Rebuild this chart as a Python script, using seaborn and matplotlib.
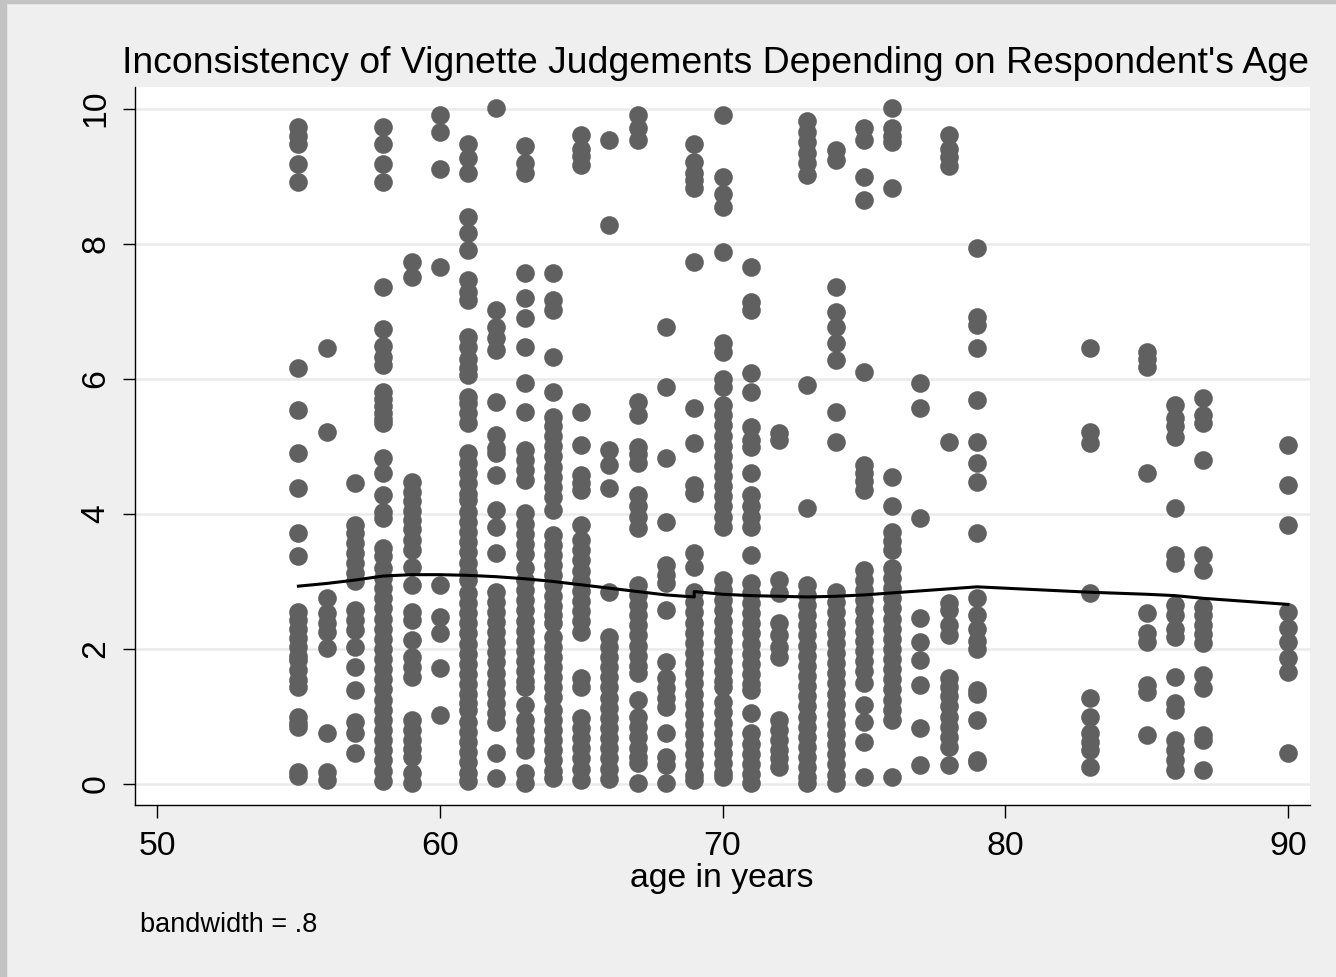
import pandas as pd
import seaborn as sns
from matplotlib import pyplot as plt
from matplotlib.patches import Rectangle

# inconsistency scores read per age column
age55 = [9.73, 9.6, 9.47, 9.18, 8.92, 6.16, 5.54, 4.9, 4.38, 3.72, 3.37, 2.54, 2.43, 2.3, 2.16, 2.03, 1.9,
         1.84, 1.69, 1.54, 1.44, 0.99, 0.9, 0.85, 0.18, 0.12]
age56 = [6.46, 5.21, 2.75, 2.53, 2.38, 2.25, 2.01, 0.75, 0.18, 0.06]
age57 = [4.46, 3.84, 3.72, 3.57, 3.42, 3.27, 3.12, 3.0, 2.58, 2.43, 2.28, 2.03, 1.73, 1.39, 0.92, 0.75, 0.46]
age58 = [9.73, 9.47, 9.18, 8.92, 7.36, 6.73, 6.48, 6.33, 6.2, 5.8, 5.7, 5.6, 5.5, 5.4, 5.35, 4.83, 4.6, 4.28,
         4.03, 3.94, 3.5, 3.37, 3.2, 3.05, 2.9, 2.75, 2.6, 2.45, 2.3, 2.15, 2.0, 1.85, 1.7, 1.55, 1.4, 1.25,
         1.1, 0.95, 0.8, 0.65, 0.5, 0.35, 0.2, 0.05]
age59 = [7.73, 7.51, 4.47, 4.33, 4.19, 4.05, 3.91, 3.77, 3.62, 3.47, 3.21, 2.95, 2.55, 2.43, 2.13, 1.88, 1.73,
         1.59, 0.95, 0.8, 0.65, 0.52, 0.4, 0.16, 0.02]
age60 = [9.91, 9.66, 9.1, 7.66, 2.95, 2.47, 2.24, 1.72, 1.02]
age61 = [9.47, 9.27, 9.05, 8.39, 8.16, 7.91, 7.47, 7.29, 7.17, 6.62, 6.47, 6.3, 6.16, 6.06, 5.73, 5.64, 5.5,
         5.35, 4.9, 4.75, 4.6, 4.45, 4.3, 4.2, 4.03, 3.88, 3.73, 3.58, 3.43, 3.28, 3.13, 3.02, 2.83, 2.68,
         2.53, 2.38, 2.23, 2.08, 1.93, 1.78, 1.63, 1.48, 1.33, 1.2, 1.1, 0.92, 0.77, 0.62, 0.47, 0.32, 0.17, 0.05]
age62 = [10.01, 7.02, 6.76, 6.6, 6.43, 5.66, 5.17, 4.98, 4.9, 4.57, 4.06, 3.81, 3.42, 2.85, 2.7, 2.55, 2.4,
         2.25, 2.1, 1.95, 1.8, 1.65, 1.5, 1.35, 1.2, 1.05, 0.92, 0.46, 0.09]
age63 = [9.44, 9.2, 9.05, 7.57, 7.2, 6.9, 6.47, 5.94, 5.51, 4.95, 4.8, 4.65, 4.5, 4.01, 3.85, 3.7, 3.55, 3.4,
         3.2, 3.02, 2.87, 2.72, 2.57, 2.42, 2.27, 2.12, 1.97, 1.82, 1.67, 1.52, 1.44, 1.17, 0.95, 0.8, 0.65,
         0.5, 0.16, 0.02]
age64 = [7.57, 7.17, 7.02, 6.33, 5.81, 5.44, 5.3, 5.15, 5.0, 4.85, 4.7, 4.55, 4.4, 4.25, 4.06, 3.69, 3.54,
         3.39, 3.24, 3.09, 2.94, 2.79, 2.64, 2.5, 2.38, 2.18, 2.03, 1.88, 1.73, 1.58, 1.43, 1.29, 1.1, 0.95,
         0.8, 0.65, 0.5, 0.35, 0.2, 0.09]
age65 = [9.61, 9.4, 9.3, 9.17, 5.51, 5.02, 4.57, 4.45, 4.36, 3.84, 3.61, 3.46, 3.31, 3.16, 3.01, 2.86, 2.71,
         2.56, 2.41, 2.25, 1.57, 1.44, 0.98, 0.83, 0.68, 0.53, 0.38, 0.23, 0.06]
age66 = [9.54, 8.28, 4.95, 4.73, 4.38, 2.84, 2.18, 2.03, 1.88, 1.73, 1.58, 1.43, 1.28, 1.13, 0.98, 0.83,
         0.68, 0.53, 0.38, 0.23, 0.08]
age67 = [9.91, 9.72, 9.54, 5.66, 5.47, 4.99, 4.88, 4.76, 4.28, 4.12, 3.96, 3.79, 2.95, 2.8, 2.65, 2.5, 2.35,
         2.2, 2.05, 1.9, 1.75, 1.64, 1.24, 0.99, 0.84, 0.69, 0.54, 0.4, 0.31, 0.02]
age68 = [6.76, 5.88, 4.83, 3.88, 3.24, 3.1, 2.98, 2.58, 1.81, 1.57, 1.42, 1.28, 1.14, 0.75, 0.4, 0.28, 0.02]
age69 = [9.47, 9.21, 9.05, 8.95, 8.83, 7.73, 5.57, 5.05, 4.43, 4.31, 3.42, 3.21, 2.84, 2.69, 2.54, 2.39,
         2.24, 2.09, 1.94, 1.79, 1.64, 1.49, 1.34, 1.19, 1.04, 0.89, 0.74, 0.59, 0.44, 0.29, 0.14, 0.06]
age70 = [9.91, 8.99, 8.73, 8.55, 7.88, 6.53, 6.39, 5.99, 5.88, 5.61, 5.46, 5.31, 5.16, 5.01, 4.86, 4.71,
         4.56, 4.41, 4.26, 4.11, 3.96, 3.81, 3.02, 2.87, 2.72, 2.57, 2.42, 2.27, 2.12, 1.97, 1.82, 1.67,
         1.52, 1.44, 1.21, 1.06, 0.91, 0.76, 0.61, 0.46, 0.31, 0.16, 0.1]
age71 = [7.66, 7.14, 7.02, 6.09, 5.81, 5.29, 5.1, 4.99, 4.6, 4.28, 4.12, 3.96, 3.81, 3.39, 2.98, 2.83, 2.68,
         2.53, 2.38, 2.23, 2.08, 1.93, 1.78, 1.63, 1.48, 1.39, 1.05, 0.75, 0.6, 0.45, 0.3, 0.15, 0.02]
age72 = [5.2, 5.1, 3.02, 2.83, 2.38, 2.2, 2.03, 1.88, 0.95, 0.8, 0.65, 0.5, 0.38, 0.25]
age73 = [9.81, 9.65, 9.5, 9.35, 9.2, 9.02, 5.91, 4.09, 2.95, 2.8, 2.65, 2.5, 2.35, 2.2, 2.05, 1.9, 1.75,
         1.6, 1.45, 1.3, 1.15, 1.0, 0.85, 0.7, 0.55, 0.4, 0.25, 0.1, 0.02]
age74 = [9.39, 9.24, 7.36, 6.99, 6.76, 6.53, 6.28, 5.51, 5.07, 2.84, 2.69, 2.54, 2.39, 2.24, 2.09, 1.94,
         1.79, 1.64, 1.49, 1.34, 1.19, 1.04, 0.89, 0.74, 0.59, 0.44, 0.29, 0.14, 0.02]
age75 = [9.72, 9.54, 8.99, 8.65, 6.1, 4.73, 4.6, 4.48, 4.36, 3.17, 3.02, 2.87, 2.72, 2.57, 2.42, 2.27, 2.12,
         1.97, 1.82, 1.67, 1.5, 1.17, 0.92, 0.62, 0.1]
age76 = [10.01, 9.72, 9.6, 9.51, 8.83, 4.55, 4.11, 3.73, 3.6, 3.47, 3.2, 3.05, 2.9, 2.75, 2.6, 2.45, 2.3,
         2.15, 2.0, 1.85, 1.7, 1.55, 1.4, 1.25, 1.1, 0.95, 0.1]
age77 = [5.94, 5.57, 3.94, 2.46, 2.1, 1.84, 1.47, 0.83, 0.28]
age78 = [9.61, 9.4, 9.28, 9.15, 5.07, 2.68, 2.58, 2.35, 2.2, 1.57, 1.43, 1.3, 1.15, 1.0, 0.85, 0.7, 0.55, 0.28]
age79 = [7.94, 6.92, 6.8, 6.46, 5.69, 5.07, 4.76, 4.47, 3.72, 2.76, 2.5, 2.3, 2.12, 2.0, 1.39, 1.34, 0.95,
         0.36, 0.32]
age83 = [6.46, 5.21, 5.05, 2.83, 1.27, 0.99, 0.75, 0.62, 0.5, 0.25]
age85 = [6.4, 6.3, 6.18, 4.6, 2.53, 2.24, 2.1, 1.47, 1.37, 0.72]
age86 = [5.61, 5.42, 5.3, 5.14, 4.09, 3.39, 3.27, 2.65, 2.5, 2.3, 2.18, 1.59, 1.2, 1.1, 0.65, 0.5, 0.36, 0.21]
age87 = [5.72, 5.47, 5.35, 4.8, 3.39, 3.17, 2.62, 2.5, 2.35, 2.22, 2.09, 1.61, 1.42, 0.72, 0.65, 0.21]
age90 = [5.02, 4.43, 3.84, 2.55, 2.31, 2.1, 1.87, 1.66, 0.46]

ages = [55, 56, 57, 58, 59, 60, 61, 62, 63, 64, 65, 66, 67, 68, 69, 70, 71, 72, 73, 74, 75, 76, 77, 78, 79,
        83, 85, 86, 87, 90]
columns = [age55, age56, age57, age58, age59, age60, age61, age62, age63, age64, age65, age66, age67, age68,
           age69, age70, age71, age72, age73, age74, age75, age76, age77, age78, age79, age83, age85, age86,
           age87, age90]

# lowess curve (bandwidth .8)
fit_age = [55, 56, 57, 58, 59, 60, 61, 62, 63, 64, 65, 66, 67, 68, 69, 69, 70, 71, 72, 73, 74, 75, 76, 77,
           78, 79, 83, 85, 86, 87, 90]
fit_val = [2.93, 2.97, 3.02, 3.08, 3.1, 3.1, 3.09, 3.07, 3.04, 3.0, 2.95, 2.9, 2.85, 2.8, 2.77, 2.85, 2.81,
           2.79, 2.78, 2.77, 2.78, 2.8, 2.83, 2.86, 2.89, 2.92, 2.84, 2.81, 2.79, 2.75, 2.66]

df = pd.DataFrame([(a, v) for a, col in zip(ages, columns) for v in col], columns=['age', 'inconsistency'])
fit = pd.DataFrame({'age': fit_age, 'lowess': fit_val})

plt.rcParams['font.family'] = ['Liberation Sans', 'DejaVu Sans']

fig = plt.figure(figsize=(13.36, 9.77), dpi=100, facecolor='#EFEFEF')
# stata-ish outer frame
fig.patches.append(Rectangle((0, 0), 6 / 1336, 1, transform=fig.transFigure, color='#C3C3C3', zorder=0))
fig.patches.append(Rectangle((0, 1 - 3 / 977), 1, 3 / 977, transform=fig.transFigure, color='#C3C3C3', zorder=0))

ax = fig.add_axes([135 / 1336, 1 - 805 / 977, 1175 / 1336, 718 / 977])
ax.set_facecolor('white')

sns.scatterplot(data=df, x='age', y='inconsistency', s=180, color='#606060', linewidth=0, ax=ax, zorder=3)
sns.lineplot(data=fit, x='age', y='lowess', estimator=None, sort=False, color='black', linewidth=2.2,
             ax=ax, zorder=4)

ax.set_xlim(49.22, 90.78)
ax.set_ylim(-0.31, 10.32)
ax.set_xticks([50, 60, 70, 80, 90])
ax.set_yticks([0, 2, 4, 6, 8, 10])
ax.tick_params(axis='both', labelsize=24.3, length=9, width=1, color='black')
ax.tick_params(axis='x', pad=10)
ax.tick_params(axis='y', pad=8)
for lab in ax.get_yticklabels():
    lab.set_rotation(90)
    lab.set_va('center')

ax.yaxis.grid(True, color='#EAEAEA', linewidth=1.8)
ax.xaxis.grid(False)
ax.set_axisbelow(True)
for side in ['top', 'right']:
    ax.spines[side].set_visible(False)
for side in ['left', 'bottom']:
    ax.spines[side].set_linewidth(1)
    ax.spines[side].set_color('black')
ax.set_xlabel('')
ax.set_ylabel('')

fig.text(715 / 1336, 1 - 73 / 977, "Inconsistency of Vignette Judgements Depending on Respondent's Age",
         ha='center', va='baseline', fontsize=26.9)
fig.text(722 / 1336, 1 - 887 / 977, 'age in years', ha='center', va='baseline', fontsize=24.3)
fig.text(140 / 1336, 1 - 932 / 977, 'bandwidth = .8', ha='left', va='baseline', fontsize=19.5)

fig.savefig('out.png', dpi=100, facecolor=fig.get_facecolor())
